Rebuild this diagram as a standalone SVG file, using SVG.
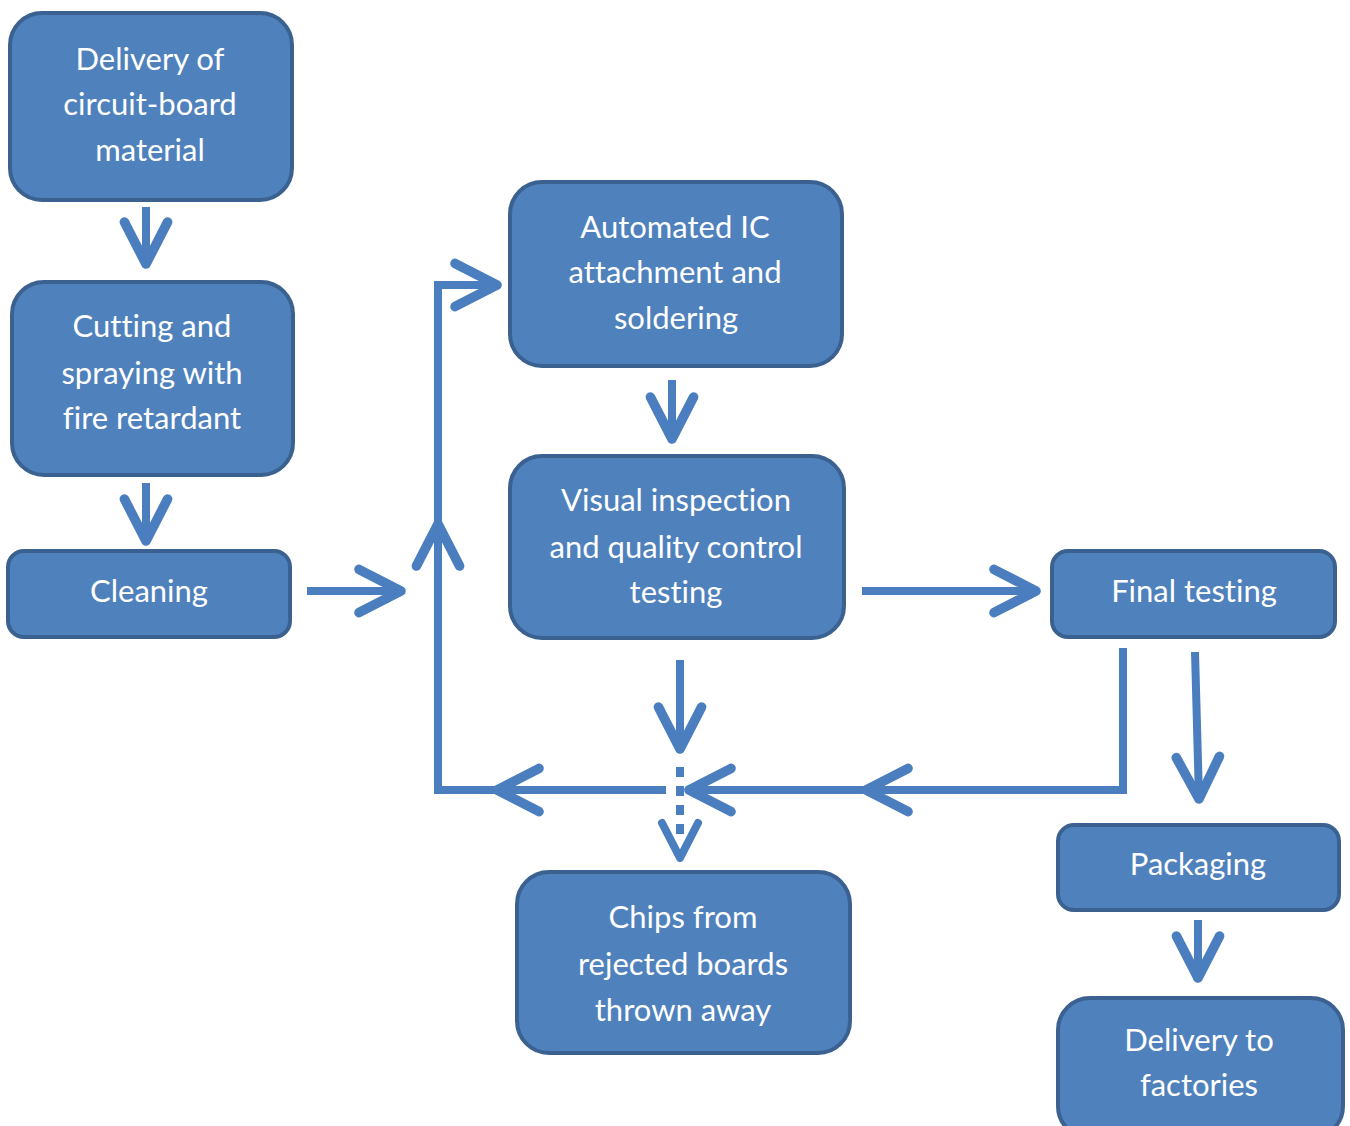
<svg xmlns="http://www.w3.org/2000/svg" width="1350" height="1126" viewBox="0 0 1350 1126">
<style>
.box{fill:#4F81BD;stroke:#3A6190;stroke-width:4}
.t{font-family:Lato,"Open Sans","Liberation Sans",sans-serif;font-size:31px;fill:#FFFFFF;text-anchor:middle;font-variant-ligatures:none}
.ln{fill:none;stroke:#4A7EBF;stroke-width:8;stroke-linejoin:miter}
.dash{fill:none;stroke:#4A7EBF;stroke-width:8;stroke-dasharray:10 9}
.chev{fill:none;stroke:#4A7EBF;stroke-width:8;stroke-linecap:round;stroke-linejoin:round}
</style>
<defs>
<marker id="ah" markerUnits="userSpaceOnUse" markerWidth="60" markerHeight="60" viewBox="-45 -25 50 50" refX="0" refY="0" orient="auto" overflow="visible">
<path d="M-35,-18 L0,0 L-35,18" class="chev"/>
</marker>
</defs>
<rect width="1350" height="1126" fill="#FFFFFF"/>
<g id="connectors">
<path class="ln" d="M146,207 L146,264" marker-end="url(#ah)"/>
<path class="ln" d="M146,483 L146,541" marker-end="url(#ah)"/>
<path class="ln" d="M307,591 L401,591" marker-end="url(#ah)"/>
<path class="ln" d="M672,380 L672,439" marker-end="url(#ah)"/>
<path class="ln" d="M862,591 L1036,591" marker-end="url(#ah)"/>
<path class="ln" d="M680,660 L680,749" marker-end="url(#ah)"/>
<path class="dash" d="M680,767 L680,838"/>
<path class="chev" d="M662,823 L680,858 L698,823"/>
<path class="ln" d="M1195,652 L1199,799" marker-end="url(#ah)"/>
<path class="ln" d="M1198,920 L1198,978" marker-end="url(#ah)"/>
<path class="ln" d="M1123,648 L1123,790 L866,790" marker-end="url(#ah)"/>
<path class="ln" d="M866,790 L689,790" marker-end="url(#ah)"/>
<path class="ln" d="M666,790 L497,790" marker-end="url(#ah)"/>
<path class="ln" d="M497,790 L438,790 L438,524" marker-end="url(#ah)"/>
<path class="ln" d="M438,524 L438,285 L497,285" marker-end="url(#ah)"/>
</g>
<g id="n1"><rect class="box" x="10" y="13" width="282" height="187" rx="32"/>
<text class="t" x="150" y="70">Delivery of</text><text class="t" x="150" y="115">circuit-board</text><text class="t" x="150" y="161">material</text></g>
<g id="n2"><rect class="box" x="12" y="282" width="281" height="193" rx="32"/>
<text class="t" x="152" y="337">Cutting and</text><text class="t" x="152" y="384">spraying with</text><text class="t" x="152" y="429">fire retardant</text></g>
<g id="n3"><rect class="box" x="8" y="551" width="282" height="86" rx="16"/>
<text class="t" x="149" y="602">Cleaning</text></g>
<g id="n4"><rect class="box" x="510" y="182" width="332" height="184" rx="32"/>
<text class="t" x="675" y="238">Automated IC</text><text class="t" x="675" y="283">attachment and</text><text class="t" x="676" y="329">soldering</text></g>
<g id="n5"><rect class="box" x="510" y="456" width="334" height="182" rx="32"/>
<text class="t" x="676" y="511">Visual inspection</text><text class="t" x="676" y="558">and quality control</text><text class="t" x="676" y="603">testing</text></g>
<g id="n6"><rect class="box" x="1052" y="551" width="283" height="86" rx="16"/>
<text class="t" x="1194" y="602">Final testing</text></g>
<g id="n7"><rect class="box" x="1058" y="825" width="281" height="85" rx="16"/>
<text class="t" x="1198" y="875">Packaging</text></g>
<g id="n8"><rect class="box" x="1058" y="998" width="285" height="140" rx="32"/>
<text class="t" x="1199" y="1051">Delivery to</text><text class="t" x="1199" y="1096">factories</text></g>
<g id="n9"><rect class="box" x="517" y="872" width="333" height="181" rx="32"/>
<text class="t" x="683" y="928">Chips from</text><text class="t" x="683" y="975">rejected boards</text><text class="t" x="683" y="1021">thrown away</text></g>
</svg>
